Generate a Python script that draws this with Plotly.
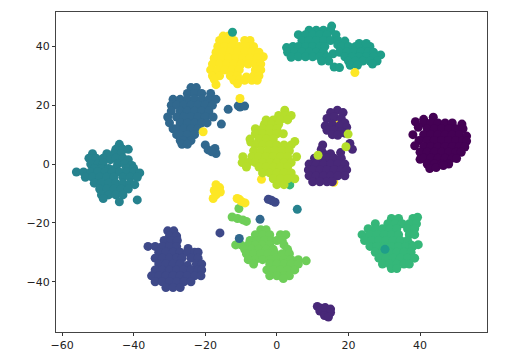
import plotly.graph_objects as go

# t-SNE embedding, one list of (x, y) per digit class
c0 = [(41,15.2),(43.7,15.9),(38.7,14.4),(41,14),(43,14),(45,14),(47,14),(49,14),(51.7,13.6),
      (39.5,12.5),(42,12),(44,12),(46,12),(48,12),(50,12),(52,12),
      (38,10),(41,10),(43,10),(45,10),(47,10),(49,10),(51,10),(53,9.5),
      (39.7,8),(42,8),(44,8),(46,8),(48,8),(50,8),(52,8),(53,7.8),
      (38.5,6.2),(41,6),(43,6),(45,6),(47,6),(49,6),(51,6),(52.5,5.8),
      (40,4),(42,4),(44,4),(46,4),(48,4),(50,4),(51.5,4),
      (40,1.6),(41,2),(43,2),(45,2),(47,2),(49,2),(50.2,1.9),
      (42,0),(44,0),(46,0),(48,0),(42.7,-1.5),(44.5,-1.2),(46.5,-0.5)]
c1 = [(16.9,18.3),(15,17.5),(18.5,17.5),(14,15.5),(16,16),(18,15.5),(19,14),(13.5,13),
      (15.5,13.5),(17.5,13),(19.5,12.5),(14,11.5),(16,11.5),(18,11),(15.5,10),(17,9.8),(19,10.5),
      (12.8,6.5),(12.4,5),(20.4,7),(21.1,5),(17.8,3.9),
      (13,3.5),(15,3.5),(10.5,2),(12,2),(14,2),(16,2),(18,2),
      (9,0),(11,0),(13,0),(15,0),(17,0),(19,0),
      (8.8,-2),(10,-2),(12,-2),(14,-2),(16,-2),(18,-2),(19.5,-2),
      (9,-4),(11,-4),(13,-4),(15,-4),(17,-4),(19,-4),
      (10,-6),(12,-6),(14,-6),(15.5,-6),
      (11.3,-48.4),(12.5,-49),(13.5,-48.8),(15,-49.3),(12,-50),(13.5,-50.5),(15,-50.5),(13.3,-51.5),(14.4,-52)]
c2 = [(-30.5,-22.7),(-28.8,-22.7),(-30,-24.5),(-28,-24.5),(-31.5,-26),(-29.5,-26),(-27.8,-26),
      (-36,-28),(-34,-28),(-32,-28),(-30,-28),(-28,-28),(-24.8,-28.7),
      (-33,-30),(-31,-30),(-29,-30),(-27,-30),(-25,-30),(-23,-30),(-22,-30),
      (-34,-32),(-32,-32),(-30,-32),(-28,-32),(-26.5,-32),(-24,-32),(-22,-32),
      (-33,-34),(-31,-34),(-29,-34),(-27,-34),(-25,-34.5),(-22.5,-34),(-21,-34),
      (-34,-36),(-32,-36),(-30,-36),(-28,-36),(-26,-36),(-24,-36),(-22,-36),(-21,-36),
      (-35,-38),(-33,-38),(-31,-38),(-29,-38),(-27,-38),(-25,-38),(-23,-38),(-21.2,-38),
      (-34,-40),(-32,-40),(-30,-40),(-28,-40),(-26,-40),(-24,-40),
      (-31,-42),(-29,-42),(-27,-42),
      (-15.9,-23.4),(-2.4,-12),(-1.8,-12.2),(-1.3,-12.5),(-0.5,-13)]
c3 = [(-24,26),(-22.5,26),(-25,24),(-23,24),(-21,24),(-18.5,24),
      (-29,22),(-27,22),(-25,22),(-23,22),(-21,22),(-19,22),(-17,22),
      (-29.5,20),(-28,20),(-26,20),(-24,20),(-22,20),(-20,20),(-18,20),
      (-29.5,18),(-27,18),(-25,18),(-23,18),(-21,18),(-19,18),
      (-30.5,16),(-28,16),(-26,16),(-24,16),(-22,16),(-20,16),(-17.8,16),
      (-30,14),(-27,14),(-25,14),(-23,14),(-21,14),(-19.5,14),
      (-29,12),(-28,12),(-26,12),(-24,12),(-22,12),
      (-28,10),(-27,10),(-25,10),(-23,10),(-27,8),(-26,8),(-24,8),(-26.5,6.7),(-25,6.7),
      (-15.5,13.6),(-13.6,18.6),(-10.8,19.8),(-10.3,19.4),(-9,19.7),
      (-20,6.5),(-19.2,4.8),(-17.3,5.3),(-17,3.6),(-18.2,4.2),
      (-4.7,-18.8)]
c4 = [(-44,6.7),(-45,5),(-43,5),(-41.5,5),(-51.5,3.5),(-47.5,3.5),(-45.5,3.5),(-43.5,3.5),
      (-52.5,2),(-50.5,2),(-48.5,2),(-46.5,1.5),(-45,2),(-43,2),(-41.5,1.5),(-52,0),(-50,0),(-48.5,0.5),(-44.5,0),(-42.5,0),(-40.5,-0.5),
      (-51,-1.5),(-49,-1.5),(-47,-1.5),(-45,-1.5),(-42,-1.5),(-40,-1.5),
      (-56,-2.7),(-54,-2.7),(-52,-2.7),(-50,-2.7),(-48,-2.7),(-46,-2.7),(-44,-2.7),(-42,-2.7),(-40,-2.7),(-38.3,-3),
      (-53.5,-4.5),(-51.5,-4.5),(-49.5,-4.5),(-47.5,-4.5),(-45.5,-4.5),(-43,-4.5),(-41,-4.5),(-39,-4.5),
      (-51,-6.5),(-49,-6.5),(-47,-6.5),(-45,-6.5),(-43,-6.5),(-41,-6.5),(-39.7,-7),
      (-49.5,-8.5),(-47.5,-8.5),(-45.5,-8.5),(-43.5,-8.5),(-41.5,-8.5),
      (-49,-10.5),(-47,-10.5),(-45,-10.5),(-43,-10.5),(-48.5,-11.7),(-44,-12.8),(-39,-12.2),
      (5.7,-15.4)]
c5 = [(15.3,46.9),(9,45.5),(11,45.5),(13,45.5),(15,45.5),(6,44),(8,44),(10,44),(12,44),(14,44),(16.5,44),
      (7,42),(9,42),(11,42),(13,42),(15,42),(17,42),(19,41.8),
      (2.7,39.6),(4.5,40),(6,40),(8,40),(10,40),(12,40),(13.4,40),(17,40.5),(18,40),(20,40),(22,40),(24,40),(26,40),(23,41),(25,41),
      (3,38),(5,38),(7,38),(9,38),(11,38),(13,38),(15.7,37.5),(17.5,38),(19.5,38),(21.5,38),(23.5,38),(25.5,38),(27,38),(29,37.1),
      (4,36.3),(6,36.5),(8,36.5),(10,36.5),(12,36.5),(14,36.5),(19,36.5),(21,36.5),(23,36.5),(25,36.5),(27,36.5),
      (12.5,35),(14.5,35),(20,35),(22,35),(24,35),(26,35),(28,35),
      (20.5,33.6),(22.5,33.6),(26.7,34),(16,33),(17.5,32.8),
      (-16.4,30.6)]
c6 = [(32,-18.5),(34,-18.5),(38,-18.5),(39.3,-18.1),(27.5,-20.3),(31,-20.3),(33,-20.3),(35,-20.3),(37,-20.3),(39,-20.3),
      (25.5,-22),(27.5,-22),(29.5,-22),(31.5,-22),(33.5,-22),(36.5,-22),(38.5,-22),
      (23.8,-24),(26,-24),(28,-24),(30,-24),(32,-24),(34,-24),(37,-24),(38.5,-24),
      (24.5,-26),(26.5,-26),(28.5,-26),(30.5,-26),(32.5,-26),(34.5,-26),(36.5,-26),(39.5,-27.4),(37.5,-27.5),
      (26,-28),(28,-28),(30,-28),(32,-28),(34,-28),(36,-28),(38,-28),
      (27.5,-30),(29.5,-30),(31.5,-30),(33.5,-30),(35.5,-30),(37.5,-30),
      (28.5,-32),(30.5,-32),(32.5,-32),(34.5,-32),(36.5,-32),(38.5,-32),
      (29.5,-34),(31.5,-34),(33.5,-34),(35.5,-34),(37,-34),(32,-35.5),(33.5,-35.5),
      (3.6,-7.1)]
c7 = [(-4.5,-22.3),(-3,-22.3),(-6,-24),(-4,-24),(-2,-24),(1,-24),(2.5,-24),
      (-7.5,-26),(-5.5,-26),(-3.5,-26),(-1.5,-26),(0,-26),(1.5,-26),
      (-11.5,-27.5),(-10,-27.5),(-8,-27.5),(-6,-27.5),(-4,-27.5),(-2,-27.5),(2,-27.5),
      (-9,-29),(-7,-29),(-5,-29),(-3,-29),(-1,-29),(3,-29),
      (-8.5,-30.5),(-6.5,-30.5),(-4.5,-30.5),(-2.5,-30.5),(-0.5,-30.5),(1.5,-30.5),(3.5,-30.5),
      (-8,-32.5),(-6,-32.5),(-4,-32.5),(-2,-32.5),(0,-32.5),(2,-32.5),(4,-32.5),(6,-32.5),(8.2,-32.9),
      (-6.5,-34),(-2,-34),(0,-34),(2,-34),(4,-34),(6,-34),(-2.8,-36),(-1,-36),(1,-36),(3,-36),(5,-36),
      (-2,-38),(0,-38),(2,-38),(3.5,-38),(1.8,-38.9),
      (-12.5,-18),(-11,-18.5),(-9.5,-19),(-8.5,-19.5),(-10.6,-15.1)]
c8 = [(2.2,18.3),(0.5,16.5),(2.5,16.5),(4,16.5),(-3,15),(-1,15),(1,15),(3,15),(-3.5,13.5),(-1.5,13.5),(0.5,13.5),
      (-6,12),(-4,12),(-2,12),(0,12),(-6,10.3),(-4,10.3),(-2,10.3),(0,10.3),(1.8,10.3),
      (-7.5,8.5),(-5,8.5),(-3,8.5),(-1,8.5),(-7.3,7.5),(5,7.7),
      (-6,6.5),(-4,6.5),(-2,6.5),(0,6.5),(2,6.5),(4,6.5),
      (-6.5,4.5),(-4.5,4.5),(-2.5,4.5),(-0.5,4.5),(1.5,4.5),(3.5,4.5),
      (-9.5,2.5),(-7,2.5),(-5,2.5),(-3,2.5),(-1,2.5),(1,2.5),(3,2.5),(5.5,2.5),
      (-9.7,0.5),(-8,0.5),(-6,0.5),(-4,0.5),(-2,0.5),(0,0.5),(2,0.5),(4,0.5),
      (-8.5,-1),(-5,-1),(-3,-1),(-1,-1),(1,-1),(3,-1),
      (-4,-3),(-2,-3),(0,-3),(2,-3),(4,-3),(-1,-5),(1,-5),(3,-5),(5,-5),(0,-7),(2,-7),
      (19.9,10.2),(19.3,5.9),(11.5,3)]
c9 = [(-15,43.5),(-13.5,43.5),(-16,42),(-14,42),(-12,42),(-9,42),(-7.5,42),
      (-16.5,40),(-14.5,40),(-12.5,40),(-10.5,40),(-8.5,40),(-6.5,40),
      (-17,38),(-15,38),(-13,38),(-11,38),(-9,38),(-7,38),(-5,38),(-3.8,36.5),
      (-17.5,36),(-15.5,36),(-13.5,36),(-11.5,36),(-9.5,36),(-7.5,36),(-5.5,36),
      (-18,34),(-16,34),(-14,34),(-12,34),(-10,34),(-8,34),(-6,34),(-4.5,34),
      (-18.5,32),(-16.5,32),(-14.5,32),(-12.5,32),(-10.5,32),(-6,32),(-4.5,32),
      (-18,30),(-16,30),(-13,30),(-11,30),(-8.5,29.6),(-6.5,30),(-5,30),
      (-17.5,28.8),(-12,28.5),(-10.5,28.5),(-9,28.5),(-7,28.5),(-5.5,28.5),(-17,27),(-11,27.3),
      (-10.3,22.3),(-20.6,11),(21.8,31.1),
      (-17,-7),(-16,-8),(-17.5,-9),(-15.8,-9.5),(-17,-10.5),(-17.8,-11.7),
      (-11.1,-11.7),(-10.5,-12),(-9.9,-12.7),(-8.9,-13.2)]
# points mostly hidden under other classes: (class, x, y), drawn first
hidden = [(9,16.2,14.7),(9,-4.3,-5.2),(9,15.9,-6.2)]
# points that sit on top of another class in the picture: (class, x, y), drawn last
strays = [(5,-12.4,44.8),(5,30.2,-29),(3,-10.5,-25.3)]

classes = [c0, c1, c2, c3, c4, c5, c6, c7, c8, c9]
x_ticks = [-60, -40, -20, 0, 20, 40]
y_ticks = [-40, -20, 0, 20, 40]

x, y, labels = [], [], []
for label, px_, py_ in hidden:
    x.append(px_)
    y.append(py_)
    labels.append(label)
for label, pts in enumerate(classes):
    for px_, py_ in pts:
        x.append(px_)
        y.append(py_)
        labels.append(label)
for label, px_, py_ in strays:
    x.append(px_)
    y.append(py_)
    labels.append(label)

fig = go.Figure(go.Scatter(
    x=x, y=y, mode="markers",
    marker=dict(size=9, color=labels, colorscale="Viridis", cmin=0, cmax=9, line_width=0),
))

axis = dict(showgrid=False, zeroline=False, showline=True, mirror=True, linecolor="#444444",
            linewidth=1, ticks="outside", ticklen=3, tickwidth=1, tickcolor="#333333")
fig.update_xaxes(range=[-61.7, 58.7], tickvals=x_ticks, **axis)
fig.update_yaxes(range=[-57.1, 51.7], tickvals=y_ticks, **axis)

# the page body has an 8px margin, so the figure is 8px smaller than the window
fig.update_layout(
    width=505, height=353,
    margin=dict(l=48, r=26, t=4, b=29),
    paper_bgcolor="white", plot_bgcolor="white",
    font=dict(family="DejaVu Sans", size=11, color="#222222"),
    showlegend=False,
)

fig.write_html("out.html")
